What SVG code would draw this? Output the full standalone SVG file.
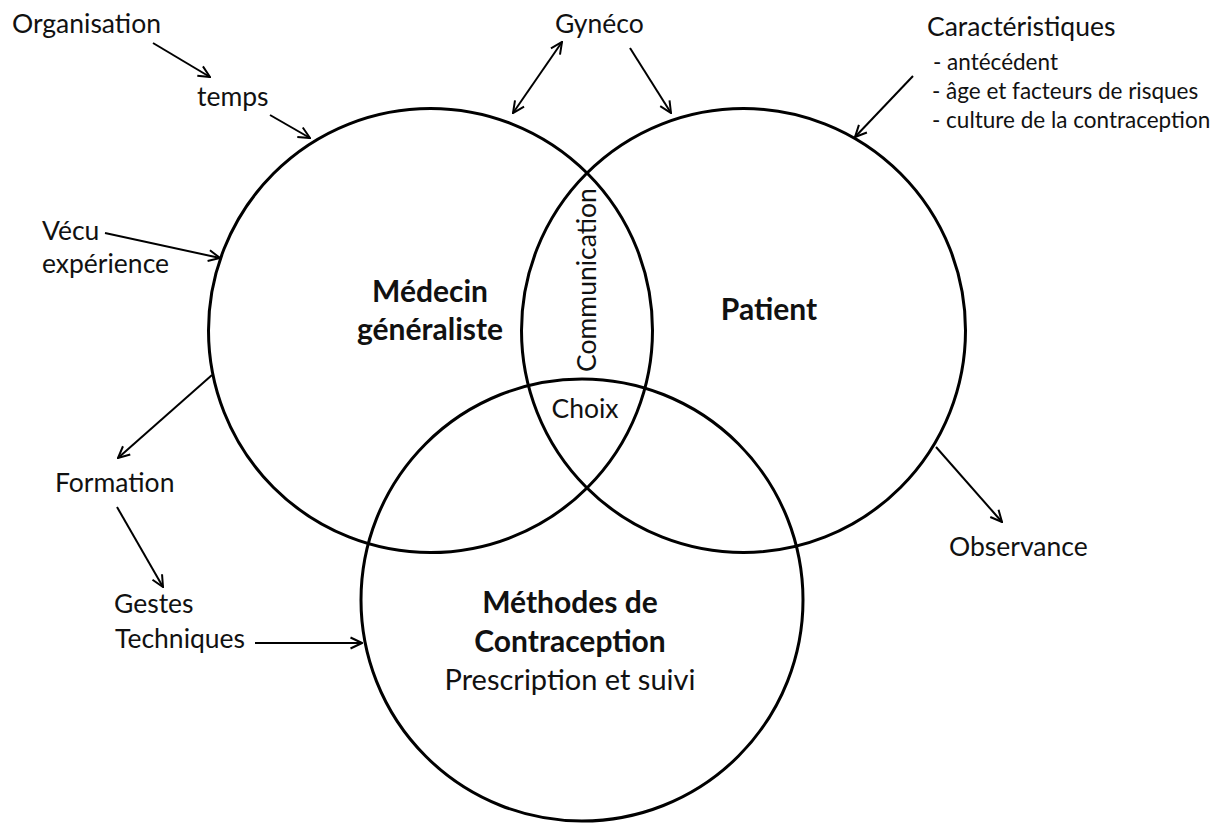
<svg xmlns="http://www.w3.org/2000/svg" width="1227" height="823" viewBox="0 0 1227 823">
<style>
.c{fill:none;stroke:#000;stroke-width:3}
.a{fill:none;stroke:#000;stroke-width:2}
text{font-family:Lato,"Liberation Sans",sans-serif;fill:#111}
.t{font-size:26.5px}
.s{font-size:22.5px}
.b{font-size:30px;font-weight:bold}
.m{text-anchor:middle}
</style>
<defs>
<marker id="ah" viewBox="0 0 14 14" refX="13" refY="7" markerWidth="14" markerHeight="14" orient="auto-start-reverse" markerUnits="userSpaceOnUse">
<path d="M1.5,1.5 L13,7 L1.5,12.5" fill="none" stroke="#000" stroke-width="2"/>
</marker>
</defs>
<rect width="1227" height="823" fill="#fff"/>
<g id="medecin">
<circle class="c" cx="430.5" cy="330.5" r="222"/>
<text class="b m" x="430" y="302">Médecin</text>
<text class="b m" x="430" y="340">généraliste</text>
</g>
<g id="patient">
<circle class="c" cx="743.5" cy="330.5" r="222"/>
<text class="b m" x="769" y="320">Patient</text>
</g>
<g id="methodes">
<circle class="c" cx="582" cy="600" r="221"/>
<text class="b m" x="570" y="613">Méthodes de</text>
<text class="b m" x="570" y="652">Contraception</text>
<text class="m" x="570" y="690" style="font-size:29px">Prescription et suivi</text>
</g>
<g id="communication">
<text class="t m" transform="translate(596,280) rotate(-90)">Communication</text>
</g>
<g id="choix">
<text class="t m" x="585" y="418">Choix</text>
</g>
<g id="organisation"><text class="t" x="12" y="33">Organisation</text></g>
<g id="temps"><text class="t" x="197" y="106">temps</text></g>
<g id="vecu"><text class="t" x="42" y="240">Vécu</text><text class="t" x="42" y="273">expérience</text></g>
<g id="gyneco"><text class="t" x="555" y="33">Gynéco</text></g>
<g id="caracteristiques">
<text class="t" x="927" y="36">Caractéristiques</text>
<text class="s" x="933" y="70">- antécédent</text>
<text class="s" x="932" y="99">- âge et facteurs de risques</text>
<text class="s" x="932" y="128">- culture de la contraception</text>
</g>
<g id="formation"><text class="t" x="55" y="492">Formation</text></g>
<g id="gestes"><text class="t" x="114" y="613">Gestes</text><text class="t" x="115" y="648">Techniques</text></g>
<g id="observance"><text class="t" x="949" y="556">Observance</text></g>
<g id="connectors">
<line class="a" x1="153" y1="43" x2="210" y2="77" marker-end="url(#ah)"/>
<line class="a" x1="270" y1="115" x2="310" y2="138" marker-end="url(#ah)"/>
<line class="a" x1="105" y1="233" x2="220" y2="258" marker-end="url(#ah)"/>
<line class="a" x1="562" y1="42" x2="513" y2="113" marker-start="url(#ah)" marker-end="url(#ah)"/>
<line class="a" x1="630" y1="48" x2="671" y2="113" marker-end="url(#ah)"/>
<line class="a" x1="913" y1="76" x2="855" y2="137" marker-end="url(#ah)"/>
<line class="a" x1="212" y1="375" x2="118" y2="458" marker-end="url(#ah)"/>
<line class="a" x1="117" y1="507" x2="163" y2="587" marker-end="url(#ah)"/>
<line class="a" x1="255" y1="643" x2="362" y2="643" marker-end="url(#ah)"/>
<line class="a" x1="936" y1="447" x2="1002" y2="522" marker-end="url(#ah)"/>
</g>
</svg>
